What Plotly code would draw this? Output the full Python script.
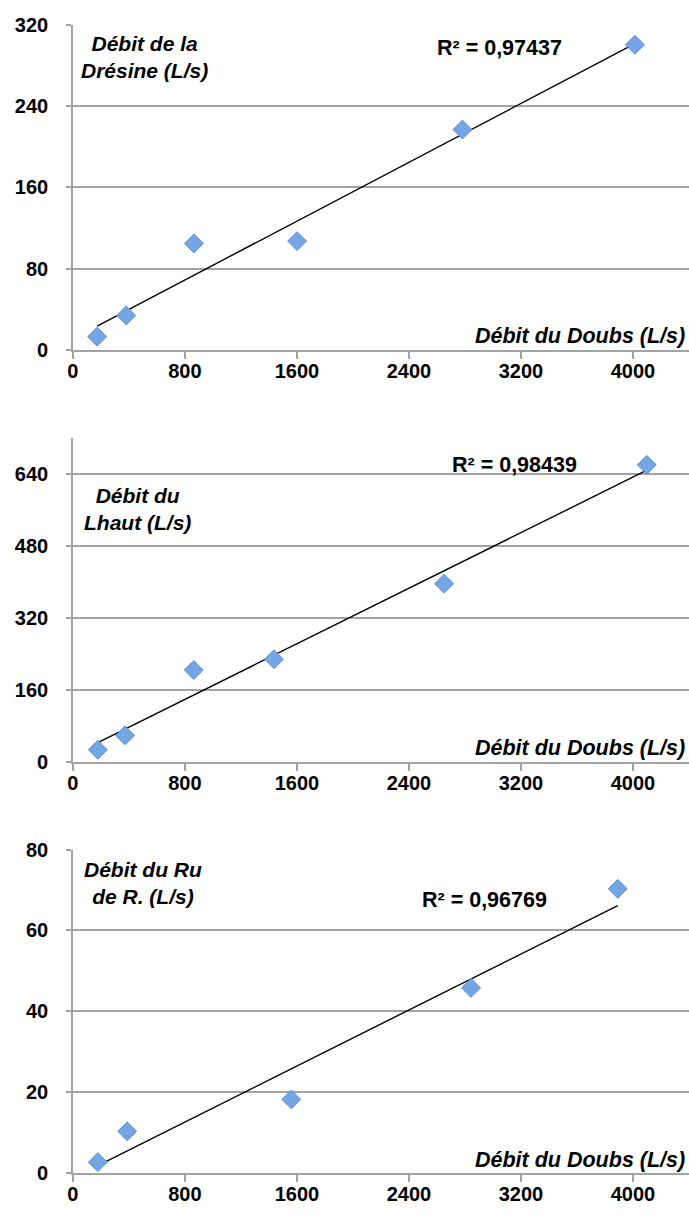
import numpy as np
import plotly.graph_objects as go

# ---------------- data ----------------
doubs_1 = [173, 381, 864, 1601, 2782, 4014]
dresine = [12.9, 33.8, 104.7, 107, 216.8, 300.3]

doubs_2 = [178, 372, 863, 1436, 2651, 4099]
lhaut = [27.7, 59.6, 205, 229, 396.6, 660.7]

doubs_3 = [178, 388, 1560, 2843, 3891]
ru = [2.67, 10.3, 18.2, 45.8, 70.3]

r2_labels = ["R² = 0,97437", "R² = 0,98439", "R² = 0,96769"]
y_titles = ["Débit de la<br>Drésine (L/s)", "Débit du<br>Lhaut (L/s)", "Débit du Ru<br>de R. (L/s)"]
x_title = "Débit du Doubs (L/s)"
x_ticks = [0, 800, 1600, 2400, 3200, 4000]
y_ticks = [[0, 80, 160, 240, 320], [0, 160, 320, 480, 640], [0, 20, 40, 60, 80]]
y_ranges = [[0, 320], [0, 720], [0, 80]]

# ---------------- layout helpers ----------------
W, H = 689, 1221
def px(x):
    return x / W
def py(y):
    return 1 - y / H

FONT = "Liberation Sans, Arial, sans-serif"
GRID = "#a3a3a3"
MARK = "#74a6e4"
MARK_EDGE = "#5b8ed4"

panels = [
    dict(xs=doubs_1, ys=dresine, top=14, bottom=345, title_xy=(140, 46.5), r2_xy=(498, 38), xt_y=331),
    dict(xs=doubs_2, ys=lhaut, top=435, bottom=765, title_xy=(133, 507), r2_xy=(513, 462), xt_y=751),
    dict(xs=doubs_3, ys=ru, top=854, bottom=1183.3, title_xy=(138, 888), r2_xy=(483, 905), xt_y=1170),
]

def bold(vals):
    return ["<b>%d</b>" % v for v in vals]

fig = go.Figure()
annotations = []
x_left = 67.5

for i, p in enumerate(panels):
    n = "" if i == 0 else str(i + 1)
    xa = "x" + n
    ya = "y" + n
    xs = np.array(p["xs"], dtype=float)
    ys = np.array(p["ys"], dtype=float)
    slope, inter = np.polyfit(xs, ys, 1)
    xl = np.array([xs.min(), xs.max()])
    fig.add_trace(go.Scatter(
        x=xl, y=slope * xl + inter, mode="lines",
        line=dict(color="black", width=1.4), xaxis=xa, yaxis=ya,
        showlegend=False, hoverinfo="skip"))
    fig.add_trace(go.Scatter(
        x=xs, y=ys, mode="markers",
        marker=dict(symbol="diamond", size=14.5, color=MARK,
                    line=dict(color=MARK_EDGE, width=1)),
        xaxis=xa, yaxis=ya, showlegend=False))

    axis_common = dict(showline=True, linecolor=GRID, linewidth=1.5,
                       ticks="outside", tickcolor=GRID, tickwidth=1.5,
                       tickfont=dict(family=FONT, size=20, color="black"),
                       zeroline=False, fixedrange=True, tickmode="array")
    fig.layout["xaxis" + n] = dict(
        domain=[px(x_left), 1], range=[0, 4400], tickvals=x_ticks, ticktext=bold(x_ticks),
        ticklen=7, showgrid=False, anchor=ya, ticklabelstandoff=-5, **axis_common)
    fig.layout["yaxis" + n] = dict(
        domain=[py(p["bottom"]), py(p["top"])], range=y_ranges[i], tickvals=y_ticks[i],
        ticktext=bold(y_ticks[i]),
        ticklen=5, showgrid=True, gridcolor=GRID, gridwidth=1.5, anchor=xa,
        ticklabelstandoff=14, **axis_common)

    tx, ty = p["title_xy"]
    annotations.append(dict(
        text="<b><i>" + y_titles[i] + "</i></b>", xref="paper", yref="paper",
        x=px(tx), y=py(ty), xanchor="center", yanchor="middle", align="center",
        showarrow=False, font=dict(family=FONT, size=21, color="black")))
    rx, ry = p["r2_xy"]
    annotations.append(dict(
        text="<b>" + r2_labels[i] + "</b>", xref="paper", yref="paper",
        x=px(rx), y=py(ry), xanchor="center", yanchor="middle",
        showarrow=False, font=dict(family=FONT, size=21.5, color="black")))
    annotations.append(dict(
        text="<b><i>" + x_title + "</i></b>", xref="paper", yref="paper",
        x=px(687), y=py(p["xt_y"]), xanchor="right", yanchor="middle",
        showarrow=False, font=dict(family=FONT, size=21.5, color="black")))

fig.update_layout(
    width=W, height=H, margin=dict(l=0, r=0, t=0, b=0),
    paper_bgcolor="white", plot_bgcolor="white",
    annotations=annotations, showlegend=False)

fig.write_html("out.html", config={"displayModeBar": False})
